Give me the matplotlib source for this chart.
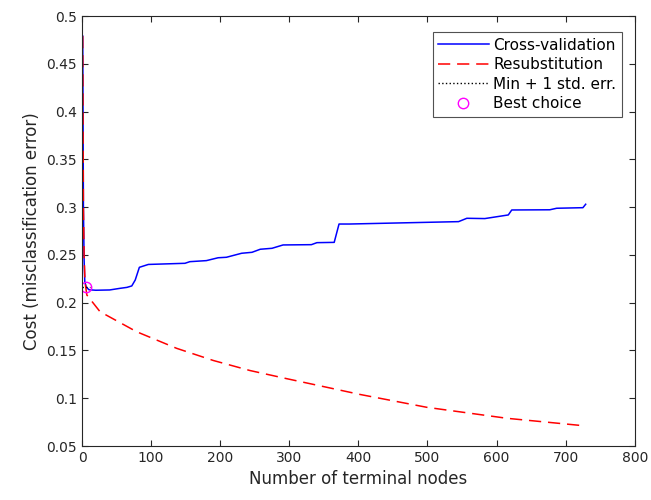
import matplotlib
matplotlib.use('Agg')
import matplotlib.pyplot as plt

# ------------------------------
# Tree pruning costs
# ------------------------------
cv_nodes = [1, 2, 3, 4, 6, 10, 20, 40, 55, 65, 72, 77, 83, 96, 149, 156, 180,
            197, 209, 231, 246, 258, 275, 291, 332, 340, 365, 372, 387, 545,
            557, 583, 617, 622, 677, 687, 725, 729]
cv_cost = [0.479, 0.300, 0.245, 0.222, 0.2165, 0.2135, 0.2130, 0.2133, 0.2150,
           0.2160, 0.2175, 0.2237, 0.2370, 0.2400, 0.2412, 0.2429, 0.2440,
           0.2470, 0.2475, 0.2517, 0.2527, 0.2559, 0.2569, 0.2604, 0.2607,
           0.2628, 0.2631, 0.2823, 0.2823, 0.2848, 0.2883, 0.2880, 0.2918,
           0.2970, 0.2972, 0.2988, 0.2994, 0.3030]

resub_nodes = [1, 2, 3, 4, 5, 7, 26, 79, 137, 190, 243, 296, 352, 402, 499,
               615, 729]
resub_cost = [0.479, 0.300, 0.250, 0.228, 0.218, 0.208, 0.1906, 0.1696, 0.1522,
              0.1395, 0.1290, 0.1205, 0.1118, 0.1040, 0.0905, 0.0790, 0.0710]

# Best pruning level and the min + 1 SE threshold
best_node = 6
best_cost = 0.2165
se_x = [0, 12]
se_level = [0.2165, 0.2165]

# ------------------------------
# Plot
# ------------------------------
fig = plt.figure(figsize=(6.51, 5.0), dpi=100)
ax = fig.add_axes([0.126, 0.108, 0.849, 0.860])

ax.plot(cv_nodes, cv_cost, color='#0000ff', lw=1.1, label='Cross-validation')
ax.plot(resub_nodes, resub_cost, color='#ff0000', lw=1.1, dashes=(8, 4.5),
        label='Resubstitution')
ax.plot(se_x, se_level, 'k:', lw=1.0, label='Min + 1 std. err.')
ax.plot([best_node], [best_cost], 'o', mfc='none', mec='#ff00ff', ms=7.5,
        mew=1.0, label='Best choice', linestyle='none')

ax.set_xlim(0, 800)
ax.set_ylim(0.05, 0.5)
ax.set_xticks(range(0, 801, 100))
ax.set_yticks([0.05, 0.1, 0.15, 0.2, 0.25, 0.3, 0.35, 0.4, 0.45, 0.5])
ax.set_yticklabels(['0.05', '0.1', '0.15', '0.2', '0.25', '0.3', '0.35',
                    '0.4', '0.45', '0.5'])

ax.tick_params(direction='in', top=True, right=True, labelsize=10,
               colors='#262626', length=4)
for s in ax.spines.values():
    s.set_color('#262626')
    s.set_linewidth(0.8)

ax.set_xlabel('Number of terminal nodes', fontsize=12, color='#262626')
ax.set_ylabel('Cost (misclassification error)', fontsize=12, color='#262626')

leg = ax.legend(loc='upper right', fontsize=11, frameon=True, fancybox=False,
                edgecolor='#262626', borderpad=0.35, handlelength=3.3,
                labelspacing=0.3, handletextpad=0.3,
                bbox_to_anchor=(0.99, 0.98))
leg.get_frame().set_linewidth(0.8)

plt.savefig('out.png', dpi=100)
